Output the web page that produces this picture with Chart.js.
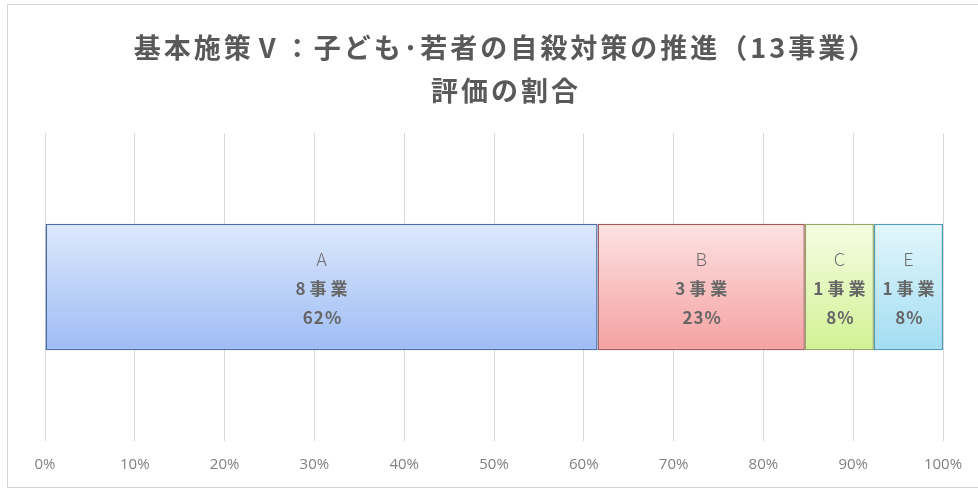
<!DOCTYPE html>
<html lang="ja">
<head>
<meta charset="utf-8">
<script src="https://cdn.jsdelivr.net/npm/chart.js@4.4.1/dist/chart.umd.min.js"></script>
<style>
html, body { margin: 0; padding: 0; background: #fff; overflow: hidden; }
#wrap { position: relative; width: 978px; height: 490px; overflow: hidden; }
#title {
    position: absolute; left: 21px; width: 970px; top: 25px;
    text-align: center; color: #595959;
    font-family: "Noto Sans CJK JP", "Noto Sans", sans-serif;
    font-weight: 700; font-size: 27px; line-height: 43px; letter-spacing: 3px;
}
#chart { position: absolute; left: 0; top: 0; }
</style>
</head>
<body>
<div id="wrap">
    <canvas id="chart" width="978" height="490"></canvas>
    <div id="title">基本施策Ⅴ：子ども･若者の自殺対策の推進（13事業）<br>評価の割合</div>
</div>
<script>
const categories = ["評価"];
const grades = ["A", "B", "C", "E"];
const projectCounts = [8, 3, 1, 1];
const xTicks = [0, 10, 20, 30, 40, 50, 60, 70, 80, 90, 100];

const fillTop = ["#dde8fc", "#fde2e2", "#f6fce4", "#e3f6fc"];
const fillBottom = ["#9ebcf4", "#f5a1a1", "#d2f294", "#a2ddf2"];
const edgeColors = ["#4b6ba6", "#a35a5a", "#93a862", "#4f9eb7"];

const totalProjects =
projectCounts.reduce(
    (sum, n) => sum + n, 0
);

const shares =
projectCounts.map(
    n => n / totalProjects * 100
);

const BAR_SHARE = 0.41;

function verticalFill(i) {

    return context => {

        const chart = context.chart;
        const area = chart.chartArea;

        if (!area) return fillBottom[i];

        const mid = chart.scales.y.getPixelForValue(0);
        const half = (area.bottom - area.top) * BAR_SHARE / 2;

        const g = chart.ctx.createLinearGradient(
            0, mid - half, 0, mid + half
        );

        g.addColorStop(0, fillTop[i]);
        g.addColorStop(1, fillBottom[i]);

        return g;

    };

}

// thin frame round the chart (open on the right side)
const outerFrame = {

    id: "outerFrame",

    beforeDraw(chart) {

        const ctx = chart.ctx;

        ctx.save();
        ctx.strokeStyle = "#d2d2d2";
        ctx.lineWidth = 1;
        ctx.beginPath();
        ctx.moveTo(chart.width, 4.5);
        ctx.lineTo(7.5, 4.5);
        ctx.lineTo(7.5, 487.5);
        ctx.lineTo(chart.width, 487.5);
        ctx.stroke();
        ctx.restore();

    }

};

// three-line label in the middle of each segment
const segmentLabels = {

    id: "segmentLabels",

    afterDatasetsDraw(chart) {

        const ctx = chart.ctx;

        chart.data.datasets.forEach((ds, i) => {

            const bar = chart.getDatasetMeta(i).data[0];
            if (!bar) return;

            const cx = (bar.x + bar.base) / 2;
            const cy = bar.y;

            ctx.save();
            ctx.textAlign = "center";
            ctx.textBaseline = "middle";
            if ("letterSpacing" in ctx) ctx.letterSpacing = "4px";

            ctx.fillStyle = "#6e6e6e";
            ctx.font = "300 18px 'Noto Sans CJK JP'";
            ctx.fillText(grades[i], cx + 2, cy - 28);

            ctx.fillStyle = "#666666";
            ctx.font = "700 17px 'Noto Sans CJK JP'";
            ctx.fillText(projectCounts[i] + "事業", cx + 2, cy + 2);

            if ("letterSpacing" in ctx) ctx.letterSpacing = "1px";
            ctx.fillText(Math.round(shares[i]) + "%", cx + 1, cy + 31);

            ctx.restore();

        });

    }

};

new Chart(document.getElementById("chart"), {

    type: "bar",

    data: {

        labels: categories,

        datasets: grades.map((g, i) => ({

            label: g,
            data: [shares[i]],
            backgroundColor: verticalFill(i),
            borderColor: edgeColors[i],
            borderWidth: 1.5,
            borderSkipped: false,
            barPercentage: BAR_SHARE,
            categoryPercentage: 1

        }))

    },

    options: {

        indexAxis: "y",
        responsive: false,
        animation: false,

        layout: {
            padding: { left: 45, right: 35, top: 133, bottom: 1 }
        },

        plugins: {
            legend: { display: false },
            title: { display: false },
            tooltip: { enabled: false }
        },

        scales: {

            x: {
                stacked: true,
                min: 0,
                max: 100,
                afterBuildTicks: axis => {
                    axis.ticks = xTicks.map(v => ({ value: v }));
                },
                grid: {
                    color: "#d9d9d9",
                    lineWidth: 1,
                    drawTicks: false
                },
                border: { display: false },
                ticks: {
                    padding: 15,
                    color: "#808080",
                    font: { family: "'Open Sans'", size: 15 },
                    callback: v => v + "%"
                }
            },

            y: {
                stacked: true,
                display: false
            }

        }

    },

    plugins: [outerFrame, segmentLabels]

});
</script>
</body>
</html>
